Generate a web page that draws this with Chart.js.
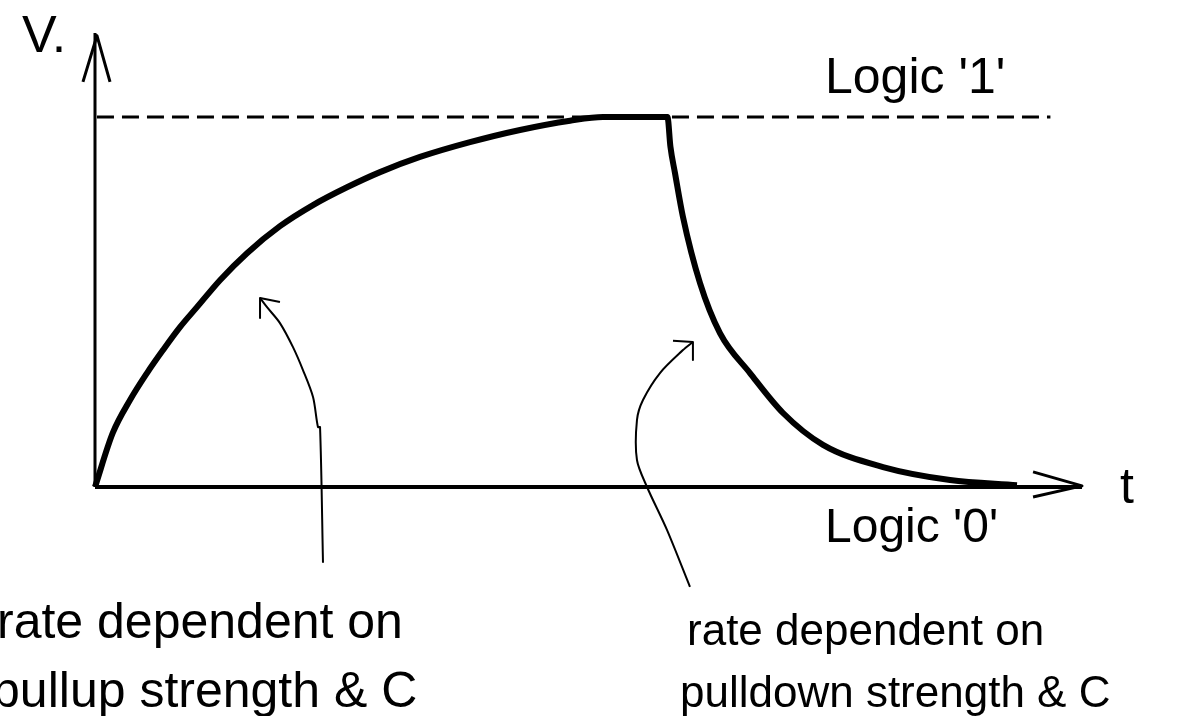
<!DOCTYPE html>
<html>
<head>
<meta charset="utf-8">
<script src="https://cdn.jsdelivr.net/npm/chart.js@4/dist/chart.umd.min.js"></script>
<style>
  html, body { margin: 0; padding: 0; background: #fff; }
  canvas { display: block; }
</style>
</head>
<body>
<canvas id="chartLogic" width="1203" height="716"></canvas>
<script>
// time (t) and voltage (V), normalised so logic '1' = 1
const signalT = [0, 0.18, 0.355, 0.527, 0.689, 0.861, 1.033, 1.266, 1.54, 1.874, 2.209, 2.553, 2.888, 3.293, 3.799, 4.306, 4.813, 5.147, 5.775,
                 5.80, 5.83, 5.876, 5.957, 6.13, 6.332, 6.636, 6.971, 7.376, 7.984, 8.663, 9.341];
const signalV = [0, 0.146, 0.235, 0.308, 0.370, 0.432, 0.486, 0.559, 0.632, 0.705, 0.762, 0.810, 0.851, 0.892, 0.932, 0.965, 0.990, 1.0, 1.0,
                 1.0, 0.92, 0.849, 0.730, 0.551, 0.416, 0.308, 0.2, 0.114, 0.054, 0.019, 0.005];

const logicHigh = 1;
const dashT = [0.02, 9.68];
const axisTMax = 10;
const axisVMax = 1.227;

// arrow heads on the axes
const vArrowT = [-0.122, 0.02, 0.152];
const vArrowV = [1.095, 1.22, 1.095];
const tArrowT = [9.504, 10.0, 9.504];
const tArrowV = [0.041, 0.003, -0.027];

// annotation for the pull-up
const pullupT = [2.31, 2.28, 2.259, 2.209, 2.107, 2.006, 1.874, 1.743, 1.672];
const pullupV = [-0.205, 0.162, 0.162, 0.243, 0.316, 0.378, 0.443, 0.486, 0.511];
const pullupHeadT = [1.874, 1.672, 1.672];
const pullupHeadV = [0.500, 0.511, 0.457];

// annotation for the pull-down
const pulldownT = [6.028, 5.795, 5.593, 5.491, 5.491, 5.552, 5.724, 5.957, 6.058];
const pulldownV = [-0.270, -0.116, 0, 0.073, 0.181, 0.235, 0.308, 0.370, 0.392];
const pulldownHeadT = [5.856, 6.058, 6.058];
const pulldownHeadV = [0.395, 0.392, 0.343];

const labelText = ["V.", "Logic '1'", "t", "Logic '0'", "rate dependent on", "pullup strength & C", "rate dependent on", "pulldown strength & C"];
const labelT = [-0.74, 7.396, 10.385, 7.396, -0.993, -1.043, 5.998, 5.927];
const labelV = [1.176, 1.065, -0.043, -0.149, -0.408, -0.595, -0.427, -0.595];
const labelSize = [52, 50, 50, 48, 50, 50, 44, 44];

function pts(ts, vs) {
    return ts.map((t, i) => ({x: t, y: vs[i]}));
}

function line(data, width, dash, tension) {
    return {
        data: data,
        showLine: true,
        borderColor: '#000',
        backgroundColor: '#000',
        borderWidth: width,
        borderDash: dash || [],
        pointRadius: 0,
        tension: tension || 0,
        fill: false,
        clip: false,
        borderJoinStyle: 'round'
    };
}

const labelPlugin = {
    id: 'labels',
    afterDatasetsDraw(chart) {
        const ctx = chart.ctx;
        const xs = chart.scales.x, ys = chart.scales.y;
        ctx.save();
        ctx.fillStyle = '#000';
        ctx.textBaseline = 'alphabetic';
        ctx.textAlign = 'left';
        labelText.forEach((txt, i) => {
            ctx.font = labelSize[i] + 'px "Liberation Sans", Arial, sans-serif';
            ctx.fillText(txt, xs.getPixelForValue(labelT[i]), ys.getPixelForValue(labelV[i]));
        });
        ctx.restore();
    }
};

const signal = line(pts(signalT, signalV), 6);
signal.cubicInterpolationMode = 'monotone';

const ctx = document.getElementById('chartLogic').getContext('2d');
const myChart = new Chart(ctx, {
    type: 'scatter',
    data: {
        datasets: [
            line([{x: 0, y: 0}, {x: 0, y: axisVMax}], 3),
            line([{x: 0, y: 0}, {x: axisTMax, y: 0}], 4),
            line(pts(vArrowT, vArrowV), 3),
            line(pts(tArrowT, tArrowV), 3),
            line([{x: dashT[0], y: logicHigh}, {x: dashT[1], y: logicHigh}], 3, [17, 8]),
            signal,
            line(pts(pullupT, pullupV), 2, null, 0.3),
            line(pts(pullupHeadT, pullupHeadV), 2),
            line(pts(pulldownT, pulldownV), 2, null, 0.3),
            line(pts(pulldownHeadT, pulldownHeadV), 2)
        ]
    },
    options: {
        responsive: false,
        animation: false,
        layout: {padding: {left: 95, right: 121, top: 43, bottom: 229}},
        plugins: {legend: {display: false}, tooltip: {enabled: false}},
        scales: {
            x: {type: 'linear', min: 0, max: axisTMax, display: false},
            y: {type: 'linear', min: 0, max: 1.2, display: false}
        }
    },
    plugins: [labelPlugin]
});
</script>
</body>
</html>
